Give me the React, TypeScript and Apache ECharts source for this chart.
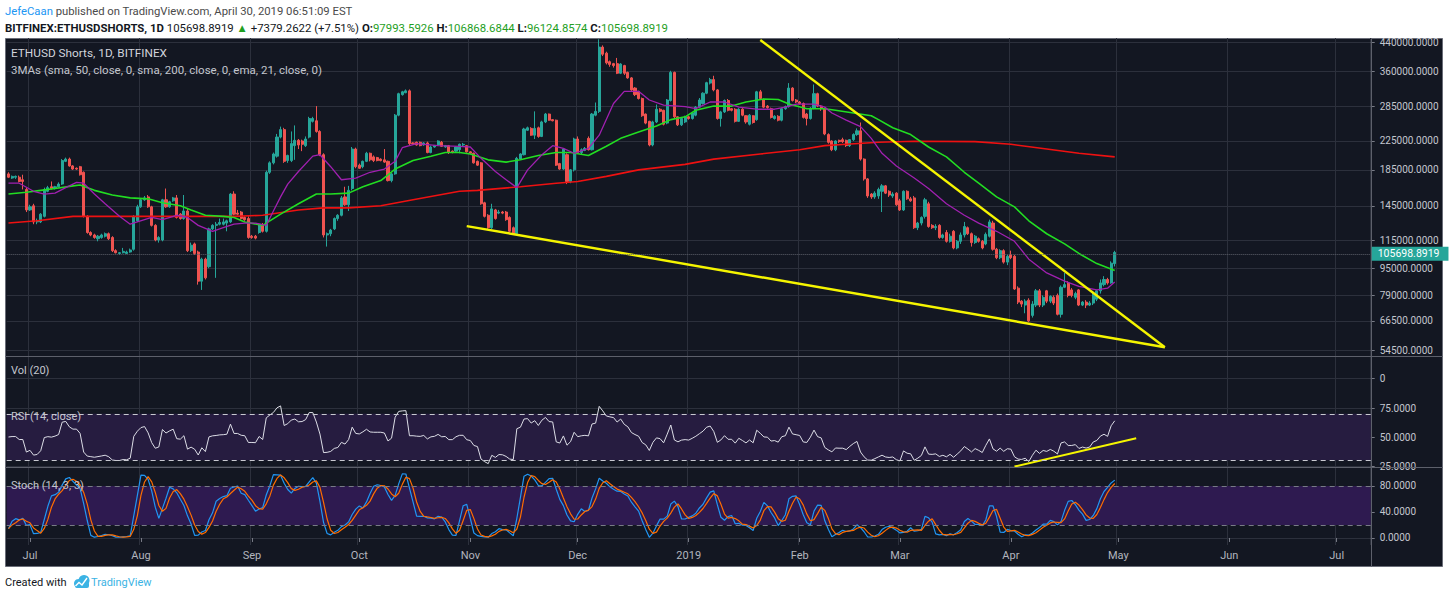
import React, { useEffect, useRef } from 'react';
import * as echarts from 'echarts';

// ---------- DATA ----------
// Daily candles starting 2018-06-25, [open, close, low, high] in thousands
const candlesK: number[][] = [
  [180,176,175,182],[175,177,174,178],[176,177,174,178],[176,171,170,178],[173,171,162,179],[162,141,139,164],
  // Jul 2018
  [141,144,140,146],[145,130,128,147],[130,131,128,133],[130,137,129,138],[135,162,134,164],[160,164,159,166],
  [165,163,162,171],[163,165,162,166],[165,168,164,170],[168,197,167,199],[196,199,195,201],[199,190,189,201],
  [190,186,185,191],[187,186,185,188],[189,179,178,190],[182,135,134,183],[135,121,120,136],[121,119,118,122],
  [119,117,116,120],[116,118,114,119],[117,119,116,120],[118,120,117,121],[120,116,115,121],[117,107,106,118],
  [107,105.5,105,108],
  // Aug
  [105,105.5,104,106],[105.5,106.5,105,109],[105,106,104.5,107],[106,107.5,105.5,108.5],[108,135,107,136],
  [131,144,130,146],[144,151,143,152],[151,153,150,155],[154,144,143,156],[144,127,126,145],[127,115,114,128],
  [115,117,113,118],[115,151,114,152],[151,144,143,163],[144,149,143,150],[150,153,149,154],[153,134,133,156],
  [137,133,132,138],[133,140,132,156],[140,107,106,142],[107,111,106,113],[112,105,104,113],[106,87,85,107],
  [87,101,82,102],[101,89,88,102],[96,124,95,125],[124,127,123,128],[127,128,89,130],[128,129.5,127,133],
  [128,130,127,133],[129,131,122,132],
  // Sep
  [130,157,129,158],[157,137,136,160],[138,137,136,141],[139,133,132,140],[134,132,131,135],[133,117,116,135],
  [118,117,116,119],[118,116.5,115.5,119],[121,128,120,129],[127,122,121,129],[122,182,121,184],[182,194,180,196],
  [194,206,192,208],[203,231,201,236],[231,243,229,248],[243,196,194,246],[197,204,194,205],[197,221,195,240],
  [218,226,198,250],[226,219,213,228],[225,220,210,227],[218,228,216,232],[231,262,229,265],[257,262,255,265],
  [258,240,238,285],[240,205,203,242],[205,119,117,207],[119,120,110,121],[120,123,118,124],[124,133,123,134],
  // Oct
  [133,136,131,137],[136,153,135,155],[154,146,145,165],[146,161,140,166],[163,213,161,216],[213,189,187,215],
  [191,187,186,193],[189,196,187,197],[196,207,195,209],[207,198,196,208],[202,197,195,204],[201,197,196,202],
  [199,197,196,200],[198,195,194,213],[196,172,171,197],[172,180,170,181],[180,268,179,270],[268,310,266,312],
  [308,314,306,316],[312,316,311,319],[316,221,219,319],[222,221,220,223],[223,219,218,224],[223,218,217,224],
  [219,222,218,223],[222,208,207,224],[208,216,207,218],[216,218,215,219],[219,225,218,226],[223,217,216,225],
  [216,218,215,219],
  // Nov
  [218,208,206,219],[210,208,207,211],[210,216,209,217],[212,220,207,221],[219,220,217,222],[218,209,208,219],
  [209,207,206,210],[207,194,193,208],[196,191,190,197],[194,147,146,195],[148,135,134,149],[136,125,124,137],
  [125,142,124,147],[141,133,132,142],[138,139,137,141],[139,138,137,140],[139,132,131,140],[134,122,121,135],
  [125,120,119,126],[120,200,119,202],[199,206,198,207],[205,244,204,246],[242,246,241,248],[245,234,233,247],
  [234,245,228,275],[246,232,230,248],[232,256,231,258],[256,270,254,272],[270,259,258,271],[260,258,257,261],
  // Dec
  [259,191,190,260],[193,186,185,194],[186,213,185,214],[205,171,168,207],[171,185,169,186],[185,228,183,230],
  [228,208,206,232],[208,212,205,214],[211,214,210,216],[229,212,211,232],[212,270,211,272],[268,275,266,292],
  [275,425,272,448],[425,405,400,430],[408,382,378,412],[385,378,372,388],[380,375,370,382],[380,356,354,395],
  [356,379,354,381],[375,356,352,377],[358,345,343,360],[345,318,316,347],[322,308,305,324],[315,300,298,316],
  [300,267,265,302],[270,254,252,271],[257,219,217,258],[219,256,217,258],[256,279,254,288],[279,275,273,281],
  [277,252,250,278],
  // Jan 2019
  [254,297,252,299],[296,358,294,362],[358,265,263,360],[265,251,249,266],[251,262,249,264],[256,265,254,267],
  [265,262,260,267],[262,272,260,274],[268,283,266,285],[283,297,281,301],[290,311,288,313],[311,334,309,336],
  [333,341,330,345],[341,318,315,350],[318,262,260,320],[262,274,248,276],[274,296,272,298],[296,277,275,299],
  [280,277,275,281],[279,257,255,281],[257,279,256,281],[279,268,266,281],[267,256,253,268],[252,268,250,270],
  [267,255,253,268],[260,314,258,316],[314,300,298,318],[297,283,281,300],[285,282,280,287],[280,264,262,282],
  [262,266,260,268],
  // Feb
  [266,259,257,268],[259,280,257,282],[280,284,278,286],[284,322,282,333],[322,296,294,324],[297,293,291,299],
  [293,290,288,295],[290,264,262,292],[270,262,250,272],[262,281,260,283],[281,310,279,330],[310,285,283,312],
  [285,280,276,287],[279,236,234,281],[235,223,221,237],[225,212,210,226],[212,225,210,226],[226,224,222,227],
  [227,224,222,230],[226,218,216,227],[218,227,216,228],[227,235,225,237],[235,241,233,245],[241,199,197,255],
  [199,174,172,200],[174,155,153,175],[157,154,152,158],[154,158,152,160],
  // Mar
  [155,162,152,164],[160,166,139,168],[166,158,157,167],[160,156,154,161],[155,157,153,159],[158,146,145,159],
  [150,141,140,152],[141,160,140,161],[160,152,151,161],[152,150,149,154],[153,125,124,155],[125,129,123,130],
  [129,134,127,135],[135,151,133,153],[147,126,125,149],[127,125,124,128],[125,126,123,128],[127,117,116,128],
  [117,119,116,120],[121,114,113,123],[114,118,113,120],[122,109,108,123],[109,114,108,115],[114,119,112,121],
  [119,126,117,130],[125,120,119,126],[120,113,110,121],[113,118,112,119],[116,114,113,117],[114,109,108,115],
  [112,119.5,111,121],
  // Apr
  [118,130,117,132],[129,108,107,131],[108,102,101,109],[102,107,101,108],[107,99,98,108],[99,103,97,104],
  [104,102,101,107],[103,82.5,82,104],[83,75.5,74.5,84],[76,74.5,73,76.5],[74,76,70,77],[76.5,66.5,66,77.5],
  [69,74.5,68,76],[74,81.5,73,82.5],[81.5,74,73,82.5],[74,78,73,79],[81.5,76,75,82],[76,78.5,75,79],
  [78,75,74,79],[79,69.5,69,80],[69.5,83.5,68,84.5],[83.5,85,83,92],[86,79,78,87],[82,79,78,83],
  [78,80,77,81],[82,74,73.5,82.5],[74,75.5,73.5,76],[75.5,74,72.5,76.5],[74,75,73.5,76],[75,80,74,81],
  [77,81.5,76,82],[81.5,86,80,88],[85,88,84,90],[88,86,85,89],[86,98.3192297,85.5,99.5],
  [97.9935926,105.6988919,96.1248574,106.8686844],
];

// Moving averages: [day offset from 2018-07-01, value in thousands]
const sma50Pts: number[][] = [
  [-6,157],[-1,159],[3,161],[7,163],[12,166],[14,167],[18,161],[23,156],[28,153],[33,152],[37,148],[42,145],
  [45,141],[49,136],[54,135],[57,134],[60,130],[65,127],[70,137],[75,147],[80,157],[84,157],[89,158],[93,165],
  [98,172],[102,186],[107,197],[112,203],[116,208],[120,208],[123,206],[128,198],[133,195],[137,198],[142,204],
  [147,208],[151,208],[156,204],[161,217],[165,229],[170,239],[175,249],[179,260],[183,265],[186,277],[191,285],
  [196,285],[200,293],[205,299],[209,298],[212,289],[217,280],[222,280],[225,277],[230,272],[235,267],[237,260],
  [241,246],[246,235],[251,216],[256,202],[261,182],[265,169],[270,154],[275,144],[279,131],[284,120],[289,112],
  [293,105],[298,98],[303,93.5],
];
const sma200Pts: number[][] = [
  [-6,129],[2,131],[12,135],[28,135],[47,135],[57,135],[65,136],[75,141],[82,143],[89,143],[98,145],[107,151],
  [120,160],[125,161],[137,165],[147,169],[153,171],[161,177],[170,185],[183,192],[191,199],[204,206],[215,212],
  [222,218],[228,220],[237,223],[247,224.5],[264,224],[274,220],[284,213],[293,207],[303,202],
];
const ema21Pts: number[][] = [
  [-6,169],[-3,169],[1,160],[4,157],[7,158],[10,164],[13,170],[15,169],[18,157],[21,147],[25,135],[28,128],
  [30,130],[34,134],[37,132],[41,136],[44,134],[47,127],[51,122],[54,125],[57,128],[60,129],[63,129],[66,127],
  [68,140],[70,154],[72,168],[75,183],[79,203],[81,205],[84,189],[87,173],[91,175],[95,182],[99,186],[102,196],
  [104,215],[108,221],[114,218],[120,217],[123,216],[126,200],[130,183],[133,173],[136,164],[139,185],[143,205],
  [146,218],[149,214],[152,207],[156,214],[159,234],[163,290],[166,315],[170,315],[173,297],[177,287],[183,284],
  [186,280],[190,293],[194,293],[198,283],[203,279],[208,279],[211,283],[214,289],[219,289],[222,283],[224,272],
  [228,259],[232,248],[235,229],[238,207],[242,190],[247,175],[251,163],[256,147],[261,136],[265,129],[270,122],
  [275,114],[279,101],[284,92],[289,87],[293,84],[298,82],[301,83],[303,86.5],
];
// Drawn trend lines: [day offset, value]
const upperTrend: number[][] = [[204, 446000], [317, 55600]];
const lowerTrend: number[][] = [[122, 126400], [317, 55600]];
const rsiTrend: number[][] = [[275, 24.5], [309, 49]];

const priceTicks = [54500, 66500, 79000, 95000, 115000, 145000, 185000, 225000, 285000, 360000, 440000];
const rsiTicks = [25, 50, 75];
const stochTicks = [0, 40, 80];
const lastPrice = 105698.8919;

// ---------- helpers ----------
const FIRST_OFFSET = 6; // 2018-06-25 is 6 days before 2018-07-01
const START = Date.UTC(2018, 5, 25);
const N_CAT = 381;
const FONT = 'Roboto, "Noto Sans", sans-serif';
const GRID_C = '#2c303c';
const lg = (v: number) => Math.log10(v);
const MONTHS = ['Jan', 'Feb', 'Mar', 'Apr', 'May', 'Jun', 'Jul', 'Aug', 'Sep', 'Oct', 'Nov', 'Dec'];

const categories: string[] = [];
for (let i = 0; i < N_CAT; i++) categories.push(new Date(START + i * 86400000).toISOString().slice(0, 10));
const isMonthStart = (_i: number, v: string) => v.slice(8) === '01';
const monthLabel = (v: string) => {
  const m = +v.slice(5, 7);
  return m === 1 ? v.slice(0, 4) : MONTHS[m - 1];
};

function calcRSI(cl: number[], n: number, seed: number) {
  let ag = seed, al = seed;
  const out: number[] = [];
  for (let i = 0; i < cl.length; i++) {
    if (i > 0) {
      const ch = cl[i] - cl[i - 1];
      ag = (ag * (n - 1) + Math.max(ch, 0)) / n;
      al = (al * (n - 1) + Math.max(-ch, 0)) / n;
    }
    out.push(100 - 100 / (1 + ag / al));
  }
  return out;
}
function sma(arr: number[], p: number) {
  return arr.map((_, i) => {
    const s = arr.slice(Math.max(0, i - p + 1), i + 1);
    return s.reduce((a, b) => a + b, 0) / s.length;
  });
}
function calcStoch(cl: number[], lo: number[], hi: number[], n: number, s1: number, s2: number) {
  const raw = cl.map((c, i) => {
    const a = Math.max(0, i - n + 1);
    const ll = Math.min(...lo.slice(a, i + 1));
    const hh = Math.max(...hi.slice(a, i + 1));
    return hh === ll ? 50 : ((c - ll) / (hh - ll)) * 100;
  });
  const k = sma(raw, s1);
  return { k, d: sma(k, s2) };
}

function buildOption() {
  const closes = candlesK.map((r) => r[1]);
  const lows = candlesK.map((r) => r[2]);
  const highs = candlesK.map((r) => r[3]);
  const rsi = calcRSI(closes, 14, 5);
  const st = calcStoch(closes, lows, highs, 14, 3, 3);

  const candleData = candlesK.map((r) => [lg(r[0] * 1000), lg(r[1] * 1000), lg(r[2] * 1000), lg(r[3] * 1000)]);
  const maData = (pts: number[][]) => pts.map(([d, v]) => [d + FIRST_OFFSET, lg(v * 1000)]);
  const trendData = (pts: number[][]) => pts.map(([d, v]) => [d + FIRST_OFFSET, lg(v)]);

  const GL = 6.7, GW = 1364;
  const grid = [
    { left: GL, top: 38, width: GW, height: 318 },
    { left: GL, top: 357, width: GW, height: 43 },
    { left: GL, top: 400, width: GW, height: 67 },
    { left: GL, top: 468, width: GW, height: 77 },
  ];
  const mkX = (gridIndex: number, show: boolean) => ({
    type: 'category', gridIndex, data: categories, boundaryGap: true,
    axisLine: { show: false },
    axisTick: { show, interval: isMonthStart, alignWithLabel: true, length: 4, lineStyle: { color: '#787b86' } },
    axisLabel: { show, interval: isMonthStart, formatter: monthLabel, color: '#b2b5be', fontSize: 11, margin: 5, fontFamily: FONT },
    splitLine: { show: true, interval: isMonthStart, lineStyle: { color: GRID_C, width: 1 } },
  });
  const axisLbl = { color: '#c3c6ce', fontSize: 10, margin: 9, fontFamily: FONT };
  const mkY = (gridIndex: number, min: number, max: number, ticks: number[], fmt: (v: number) => string) => ({
    type: 'value', gridIndex, position: 'right', min, max,
    axisLine: { show: false },
    axisTick: { show: true, customValues: ticks, length: 4, lineStyle: { color: '#787b86' } },
    axisLabel: { ...axisLbl, customValues: ticks, formatter: fmt },
    splitLine: { show: true, lineStyle: { color: GRID_C, width: 1 } },
  });

  const txt = (x: number, y: number, text: string, fill: string, size = 11, weight = 'normal') => ({
    type: 'text', x, y, z: 20,
    style: { text, fill, fontSize: size, fontFamily: FONT, fontWeight: weight, verticalAlign: 'middle' },
  });

  return {
    animation: false,
    textStyle: { fontFamily: FONT },
    grid,
    xAxis: [mkX(0, false), mkX(1, false), mkX(2, false), mkX(3, true)],
    yAxis: [
      mkY(0, lg(52400), lg(452100), priceTicks.map(lg), (v) => (Math.round(Math.pow(10, v) / 500) * 500).toFixed(4)),
      mkY(1, -1, 1, [0], () => '0'),
      mkY(2, 24.14, 81.9, rsiTicks, (v) => v.toFixed(4)),
      mkY(3, -10.8, 107.7, stochTicks, (v) => v.toFixed(4)),
    ],
    graphic: [
      { type: 'rect', z: -10, shape: { x: 5.5, y: 38.5, width: 1437, height: 528 }, style: { fill: '#131722', stroke: '#6a6d78', lineWidth: 1 } },
      { type: 'line', z: 5, shape: { x1: 5, y1: 356.5, x2: 1443, y2: 356.5 }, style: { stroke: '#5d606b', lineWidth: 1 } },
      { type: 'line', z: 5, shape: { x1: 5, y1: 467.5, x2: 1443, y2: 467.5 }, style: { stroke: '#5d606b', lineWidth: 1 } },
      { type: 'line', z: 5, shape: { x1: 1371.5, y1: 38, x2: 1371.5, y2: 567 }, style: { stroke: '#5d606b', lineWidth: 1 } },
      {
        type: 'text', x: 5, y: 11, z: 20,
        style: {
          text: '{a|JefeCaan}{b| published on TradingView.com, April 30, 2019 06:51:09 EST}',
          verticalAlign: 'middle',
          rich: {
            a: { fill: '#2196f3', fontSize: 11.3, fontFamily: FONT },
            b: { fill: '#4a4a4a', fontSize: 11.3, fontFamily: FONT },
          },
        },
      },
      {
        type: 'text', x: 5, y: 28, z: 20,
        style: {
          text: '{h|BITFINEX:ETHUSDSHORTS, 1D}{n| 105698.8919 }{g|▲}{n| +7379.2622 (+7.51%) }{h|O:}{g|97993.5926}{h| H:}{g|106868.6844}{h| L:}{g|96124.8574}{h| C:}{g|105698.8919}',
          verticalAlign: 'middle',
          rich: {
            h: { fill: '#131722', fontSize: 11.4, fontWeight: 'bold', fontFamily: FONT },
            n: { fill: '#131722', fontSize: 11.4, fontFamily: FONT },
            g: { fill: '#1fa01f', fontSize: 11.4, fontFamily: FONT },
          },
        },
      },
      txt(11, 53, 'ETHUSD Shorts, 1D, BITFINEX', '#d1d4dc', 11.8),
      txt(11, 70, '3MAs (sma, 50, close, 0, sma, 200, close, 0, ema, 21, close, 0)', '#c3c6ce', 11.5),
      txt(11, 370, 'Vol (20)', '#c3c6ce', 11),
      txt(11, 416, 'RSI (14, close)', '#c3c6ce', 11),
      txt(11, 485, 'Stoch (14, 3, 3)', '#c3c6ce', 11),
      txt(5, 582, 'Created with', '#131722', 11),
      { type: 'circle', z: 20, shape: { cx: 78.5, cy: 583.5, r: 4.5 }, style: { fill: '#3bb3e4' } },
      { type: 'circle', z: 20, shape: { cx: 84, cy: 580.5, r: 5.5 }, style: { fill: '#3bb3e4' } },
      { type: 'rect', z: 20, shape: { x: 75, y: 582, width: 14, height: 6, r: 2 }, style: { fill: '#3bb3e4' } },
      { type: 'polyline', z: 21, shape: { points: [[75.5, 586], [79, 582.5], [82, 585], [87, 578]] }, style: { stroke: '#ffffff', lineWidth: 1.4, fill: 'none' } },
      txt(91, 582, 'TradingView', '#3bb3e4', 11),
    ],
    series: [
      {
        type: 'candlestick', name: 'ETHUSD Shorts', xAxisIndex: 0, yAxisIndex: 0, data: candleData, barWidth: '72%',
        itemStyle: { color: '#26a69a', color0: '#ef5350', borderColor: '#26a69a', borderColor0: '#ef5350', borderWidth: 1 },
        markLine: {
          silent: true, symbol: ['none', 'none'],
          data: [{ yAxis: lg(lastPrice) }],
          lineStyle: { color: '#5d606b', type: 'dotted', width: 1 },
          label: {
            show: true, position: 'end', distance: 1, formatter: lastPrice.toFixed(4),
            backgroundColor: '#26a69a', color: '#ffffff', fontSize: 10.5, fontFamily: FONT, padding: [2, 9, 1, 6],
          },
        },
      },
      { type: 'line', name: 'SMA 200', xAxisIndex: 0, yAxisIndex: 0, data: maData(sma200Pts), showSymbol: false, lineStyle: { color: '#ee1111', width: 1.6 } },
      { type: 'line', name: 'SMA 50', xAxisIndex: 0, yAxisIndex: 0, data: maData(sma50Pts), showSymbol: false, lineStyle: { color: '#22dd22', width: 1.6 } },
      { type: 'line', name: 'EMA 21', xAxisIndex: 0, yAxisIndex: 0, data: maData(ema21Pts), showSymbol: false, lineStyle: { color: '#a020b0', width: 1.3 } },
      { type: 'line', name: 'Upper trend', xAxisIndex: 0, yAxisIndex: 0, data: trendData(upperTrend), showSymbol: false, lineStyle: { color: '#f5f500', width: 2.4 } },
      { type: 'line', name: 'Lower trend', xAxisIndex: 0, yAxisIndex: 0, data: trendData(lowerTrend), showSymbol: false, lineStyle: { color: '#f5f500', width: 2.4 } },
      {
        type: 'line', name: 'RSI', xAxisIndex: 2, yAxisIndex: 2, data: rsi, showSymbol: false,
        lineStyle: { color: '#dcdde6', width: 1 },
        markArea: { silent: true, itemStyle: { color: '#261c40' }, data: [[{ yAxis: 30 }, { yAxis: 70 }]] },
        markLine: {
          silent: true, symbol: ['none', 'none'], label: { show: false },
          lineStyle: { color: '#c8c9d0', type: [5, 4], width: 1 },
          data: [{ yAxis: 70 }, { yAxis: 30 }],
        },
      },
      { type: 'line', name: 'RSI trend', xAxisIndex: 2, yAxisIndex: 2, data: rsiTrend.map(([d, v]) => [d + FIRST_OFFSET, v]), showSymbol: false, lineStyle: { color: '#f5f500', width: 2 } },
      {
        type: 'line', name: '%K', xAxisIndex: 3, yAxisIndex: 3, data: st.k, showSymbol: false,
        lineStyle: { color: '#2196f3', width: 1.2 },
        markArea: { silent: true, itemStyle: { color: '#2e1a50' }, data: [[{ yAxis: 20 }, { yAxis: 80 }]] },
        markLine: {
          silent: true, symbol: ['none', 'none'], label: { show: false },
          lineStyle: { color: '#787b86', type: [5, 4], width: 1 },
          data: [{ yAxis: 80 }, { yAxis: 20 }],
        },
      },
      { type: 'line', name: '%D', xAxisIndex: 3, yAxisIndex: 3, data: st.d, showSymbol: false, lineStyle: { color: '#ff6d00', width: 1.2 } },
    ],
  };
}

export default function App() {
  const ref = useRef<HTMLDivElement>(null);
  useEffect(() => {
    if (!ref.current) return;
    const chart = echarts.init(ref.current, null, { renderer: 'svg', width: 1450, height: 599 });
    chart.setOption(buildOption() as any);
    return () => chart.dispose();
  }, []);
  return (
    <div
      ref={ref}
      style={{ position: 'absolute', left: 0, top: 0, width: 1450, height: 599, background: '#ffffff' }}
    />
  );
}
